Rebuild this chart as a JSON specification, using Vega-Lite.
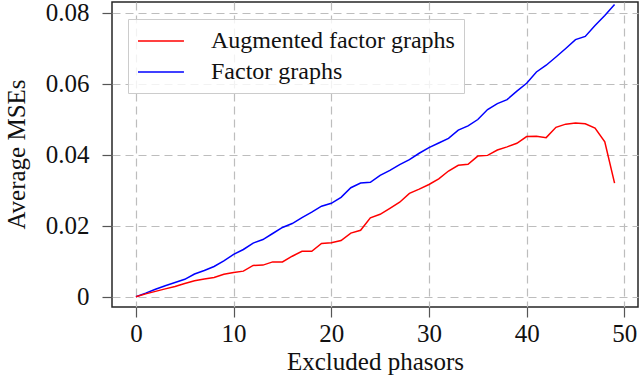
{
  "$schema": "https://vega.github.io/schema/vega-lite/v6.json",
  "width": 526,
  "height": 305,
  "autosize": {"type": "none"},
  "padding": {"left": 112, "top": 2, "right": 2, "bottom": 70},
  "background": "white",
  "config": {
    "font": "Liberation Serif",
    "view": {"stroke": "#262626", "strokeWidth": 1.5},
    "axis": {
      "domain": false,
      "grid": true,
      "gridColor": "#bdbdbd",
      "gridDash": [8, 5],
      "gridWidth": 1.2,
      "tickColor": "#555555",
      "tickSize": 10,
      "tickWidth": 1.2,
      "labelFont": "Liberation Serif",
      "labelFontSize": 25,
      "labelColor": "#111111",
      "titleFont": "Liberation Serif",
      "titleFontSize": 25,
      "titleFontWeight": "normal",
      "titleColor": "#111111"
    }
  },
  "data": {
    "values": [
      {"phasors": 0, "series": "Factor graphs", "mse": 0},
      {"phasors": 1, "series": "Factor graphs", "mse": 0.0010},
      {"phasors": 2, "series": "Factor graphs", "mse": 0.0021},
      {"phasors": 3, "series": "Factor graphs", "mse": 0.0031},
      {"phasors": 4, "series": "Factor graphs", "mse": 0.0040},
      {"phasors": 5, "series": "Factor graphs", "mse": 0.0049},
      {"phasors": 6, "series": "Factor graphs", "mse": 0.0064},
      {"phasors": 7, "series": "Factor graphs", "mse": 0.0074},
      {"phasors": 8, "series": "Factor graphs", "mse": 0.0085},
      {"phasors": 9, "series": "Factor graphs", "mse": 0.0101},
      {"phasors": 10, "series": "Factor graphs", "mse": 0.0119},
      {"phasors": 11, "series": "Factor graphs", "mse": 0.0133},
      {"phasors": 12, "series": "Factor graphs", "mse": 0.0151},
      {"phasors": 13, "series": "Factor graphs", "mse": 0.0161},
      {"phasors": 14, "series": "Factor graphs", "mse": 0.0178},
      {"phasors": 15, "series": "Factor graphs", "mse": 0.0195},
      {"phasors": 16, "series": "Factor graphs", "mse": 0.0206},
      {"phasors": 17, "series": "Factor graphs", "mse": 0.0223},
      {"phasors": 18, "series": "Factor graphs", "mse": 0.0238},
      {"phasors": 19, "series": "Factor graphs", "mse": 0.0255},
      {"phasors": 20, "series": "Factor graphs", "mse": 0.0263},
      {"phasors": 21, "series": "Factor graphs", "mse": 0.0280},
      {"phasors": 22, "series": "Factor graphs", "mse": 0.0307},
      {"phasors": 23, "series": "Factor graphs", "mse": 0.0320},
      {"phasors": 24, "series": "Factor graphs", "mse": 0.0322},
      {"phasors": 25, "series": "Factor graphs", "mse": 0.0342},
      {"phasors": 26, "series": "Factor graphs", "mse": 0.0356},
      {"phasors": 27, "series": "Factor graphs", "mse": 0.0372},
      {"phasors": 28, "series": "Factor graphs", "mse": 0.0386},
      {"phasors": 29, "series": "Factor graphs", "mse": 0.0404},
      {"phasors": 30, "series": "Factor graphs", "mse": 0.0420},
      {"phasors": 31, "series": "Factor graphs", "mse": 0.0433},
      {"phasors": 32, "series": "Factor graphs", "mse": 0.0446},
      {"phasors": 33, "series": "Factor graphs", "mse": 0.0469},
      {"phasors": 34, "series": "Factor graphs", "mse": 0.0481},
      {"phasors": 35, "series": "Factor graphs", "mse": 0.0499},
      {"phasors": 36, "series": "Factor graphs", "mse": 0.0527},
      {"phasors": 37, "series": "Factor graphs", "mse": 0.0544},
      {"phasors": 38, "series": "Factor graphs", "mse": 0.0555},
      {"phasors": 39, "series": "Factor graphs", "mse": 0.0579},
      {"phasors": 40, "series": "Factor graphs", "mse": 0.0601},
      {"phasors": 41, "series": "Factor graphs", "mse": 0.0633},
      {"phasors": 42, "series": "Factor graphs", "mse": 0.0652},
      {"phasors": 43, "series": "Factor graphs", "mse": 0.0675},
      {"phasors": 44, "series": "Factor graphs", "mse": 0.0699},
      {"phasors": 45, "series": "Factor graphs", "mse": 0.0724},
      {"phasors": 46, "series": "Factor graphs", "mse": 0.0733},
      {"phasors": 47, "series": "Factor graphs", "mse": 0.0764},
      {"phasors": 48, "series": "Factor graphs", "mse": 0.0792},
      {"phasors": 49, "series": "Factor graphs", "mse": 0.0823},
      {"phasors": 0, "series": "Augmented factor graphs", "mse": 0},
      {"phasors": 1, "series": "Augmented factor graphs", "mse": 0.0008},
      {"phasors": 2, "series": "Augmented factor graphs", "mse": 0.0015},
      {"phasors": 3, "series": "Augmented factor graphs", "mse": 0.0022},
      {"phasors": 4, "series": "Augmented factor graphs", "mse": 0.0029},
      {"phasors": 5, "series": "Augmented factor graphs", "mse": 0.0037},
      {"phasors": 6, "series": "Augmented factor graphs", "mse": 0.0045},
      {"phasors": 7, "series": "Augmented factor graphs", "mse": 0.0050},
      {"phasors": 8, "series": "Augmented factor graphs", "mse": 0.0054},
      {"phasors": 9, "series": "Augmented factor graphs", "mse": 0.0063},
      {"phasors": 10, "series": "Augmented factor graphs", "mse": 0.0068},
      {"phasors": 11, "series": "Augmented factor graphs", "mse": 0.0072},
      {"phasors": 12, "series": "Augmented factor graphs", "mse": 0.0088},
      {"phasors": 13, "series": "Augmented factor graphs", "mse": 0.0089},
      {"phasors": 14, "series": "Augmented factor graphs", "mse": 0.0098},
      {"phasors": 15, "series": "Augmented factor graphs", "mse": 0.0098},
      {"phasors": 16, "series": "Augmented factor graphs", "mse": 0.0114},
      {"phasors": 17, "series": "Augmented factor graphs", "mse": 0.0128},
      {"phasors": 18, "series": "Augmented factor graphs", "mse": 0.0128},
      {"phasors": 19, "series": "Augmented factor graphs", "mse": 0.0150},
      {"phasors": 20, "series": "Augmented factor graphs", "mse": 0.0152},
      {"phasors": 21, "series": "Augmented factor graphs", "mse": 0.0158},
      {"phasors": 22, "series": "Augmented factor graphs", "mse": 0.0179},
      {"phasors": 23, "series": "Augmented factor graphs", "mse": 0.0187},
      {"phasors": 24, "series": "Augmented factor graphs", "mse": 0.0222},
      {"phasors": 25, "series": "Augmented factor graphs", "mse": 0.0232},
      {"phasors": 26, "series": "Augmented factor graphs", "mse": 0.0249},
      {"phasors": 27, "series": "Augmented factor graphs", "mse": 0.0266},
      {"phasors": 28, "series": "Augmented factor graphs", "mse": 0.0291},
      {"phasors": 29, "series": "Augmented factor graphs", "mse": 0.0303},
      {"phasors": 30, "series": "Augmented factor graphs", "mse": 0.0316},
      {"phasors": 31, "series": "Augmented factor graphs", "mse": 0.0332},
      {"phasors": 32, "series": "Augmented factor graphs", "mse": 0.0354},
      {"phasors": 33, "series": "Augmented factor graphs", "mse": 0.0370},
      {"phasors": 34, "series": "Augmented factor graphs", "mse": 0.0373},
      {"phasors": 35, "series": "Augmented factor graphs", "mse": 0.0396},
      {"phasors": 36, "series": "Augmented factor graphs", "mse": 0.0398},
      {"phasors": 37, "series": "Augmented factor graphs", "mse": 0.0413},
      {"phasors": 38, "series": "Augmented factor graphs", "mse": 0.0422},
      {"phasors": 39, "series": "Augmented factor graphs", "mse": 0.0432},
      {"phasors": 40, "series": "Augmented factor graphs", "mse": 0.0451},
      {"phasors": 41, "series": "Augmented factor graphs", "mse": 0.0452},
      {"phasors": 42, "series": "Augmented factor graphs", "mse": 0.0448},
      {"phasors": 43, "series": "Augmented factor graphs", "mse": 0.0477},
      {"phasors": 44, "series": "Augmented factor graphs", "mse": 0.0486},
      {"phasors": 45, "series": "Augmented factor graphs", "mse": 0.0489},
      {"phasors": 46, "series": "Augmented factor graphs", "mse": 0.0487},
      {"phasors": 47, "series": "Augmented factor graphs", "mse": 0.0475},
      {"phasors": 48, "series": "Augmented factor graphs", "mse": 0.0436},
      {"phasors": 49, "series": "Augmented factor graphs", "mse": 0.0320}
    ]
  },
  "mark": {"type": "line", "strokeWidth": 1.5, "clip": true},
  "encoding": {
    "x": {
      "field": "phasors",
      "type": "quantitative",
      "scale": {"domain": [-2.45, 51.4], "nice": false, "zero": false},
      "axis": {
        "values": [0, 10, 20, 30, 40, 50],
        "title": "Excluded phasors",
        "labelPadding": 4,
        "titleX": 263,
        "titleY": 62,
        "titleBaseline": "alphabetic",
        "titleAnchor": "middle"
      }
    },
    "y": {
      "field": "mse",
      "type": "quantitative",
      "scale": {"domain": [-0.0029, 0.083], "nice": false, "zero": false},
      "axis": {
        "values": [0, 0.02, 0.04, 0.06, 0.08],
        "labelExpr": "datum.value == 0 ? '0' : format(datum.value, '.2f')",
        "labelPadding": 13,
        "title": "Average MSEs",
        "titleX": -88,
        "titleY": 152,
        "titleAngle": -90,
        "titleBaseline": "alphabetic",
        "titleAnchor": "middle"
      }
    },
    "color": {
      "field": "series",
      "type": "nominal",
      "scale": {
        "domain": ["Augmented factor graphs", "Factor graphs"],
        "range": ["#ff0000", "#0000ff"]
      },
      "legend": {
        "title": null,
        "orient": "none",
        "legendX": 16,
        "legendY": 17,
        "symbolType": "M-1,0H2.83",
        "symbolSize": 576,
        "symbolStrokeWidth": 1.5,
        "symbolFillColor": "transparent",
        "labelFont": "Liberation Serif",
        "labelFontSize": 24,
        "labelColor": "#111111",
        "labelLimit": 0,
        "labelOffset": 48,
        "padding": 9,
        "rowPadding": 6,
        "fillColor": "rgba(255,255,255,0.8)",
        "strokeColor": "#cccccc"
      }
    }
  }
}
